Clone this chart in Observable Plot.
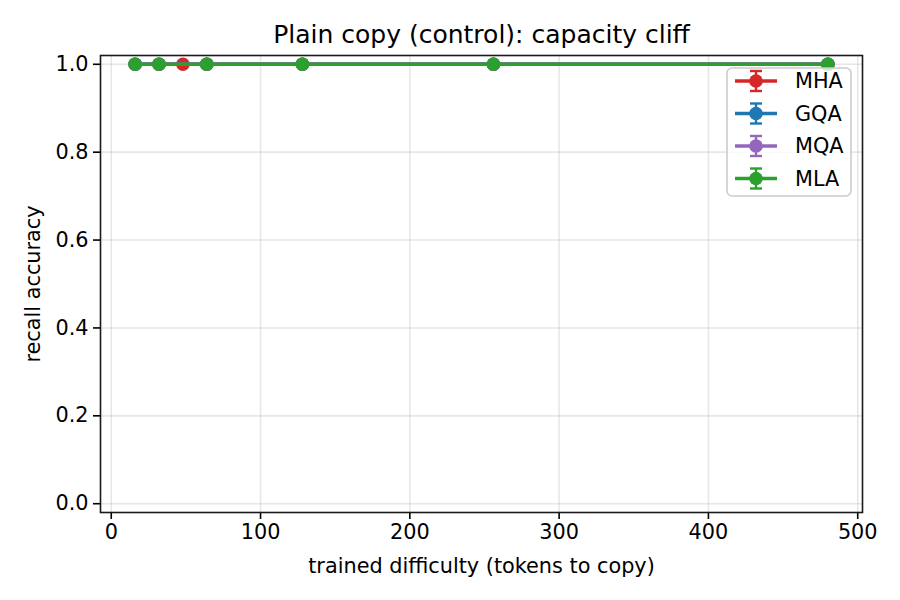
<!DOCTYPE html>
<html>
<head>
<meta charset="utf-8">
<script src="https://cdn.jsdelivr.net/npm/d3@7"></script>
<script src="https://cdn.jsdelivr.net/npm/@observablehq/plot@0.6"></script>
<style>
  html, body { margin: 0; padding: 0; background: white; }
  #chart { width: 900px; height: 600px; }
</style>
</head>
<body>
<div id="chart"></div>
<script>
const title = "Plain copy (control): capacity cliff";
const xLabel = "trained difficulty (tokens to copy)";
const yLabel = "recall accuracy";
const seriesNames = ["MHA", "GQA", "MQA", "MLA"];
const seriesColors = ["#d62728", "#1f77b4", "#9467bd", "#2ca02c"];
const mhaX = [16, 32, 48, 64, 128, 256, 480];
const mhaY = [1.0, 1.0, 1.0, 1.0, 1.0, 1.0, 1.0];
const gqaX = [16, 32, 64, 128, 256, 480];
const gqaY = [1.0, 1.0, 1.0, 1.0, 1.0, 1.0];
const mqaX = [16, 32, 64, 128, 256, 480];
const mqaY = [1.0, 1.0, 1.0, 1.0, 1.0, 1.0];
const mlaX = [16, 32, 64, 128, 256, 480];
const mlaY = [1.0, 1.0, 1.0, 1.0, 1.0, 1.0];
const xTicks = [0, 100, 200, 300, 400, 500];
const yTicks = [0.0, 0.2, 0.4, 0.6, 0.8, 1.0];

const seriesX = [mhaX, gqaX, mqaX, mlaX];
const seriesY = [mhaY, gqaY, mqaY, mlaY];
const rows = [];
seriesNames.forEach((name, i) => {
  seriesX[i].forEach((x, j) => rows.push({series: name, x, y: seriesY[i][j], order: i}));
});

const fontPx = 20.8;
const marks = [
  Plot.gridX(xTicks, {stroke: "#b0b0b0", strokeOpacity: 0.3, strokeWidth: 1.6}),
  Plot.gridY(yTicks, {stroke: "#b0b0b0", strokeOpacity: 0.3, strokeWidth: 1.6}),
  Plot.axisX(xTicks, {tickSize: 7, tickPadding: 5, tickFormat: d3.format("d"), label: null, fontSize: fontPx, strokeWidth: 1.6}),
  Plot.axisY(yTicks, {tickSize: 7, tickPadding: 5, tickFormat: d3.format(".1f"), label: null, fontSize: fontPx, strokeWidth: 1.6}),
];
seriesNames.forEach((name, i) => {
  const d = rows.filter(r => r.series === name);
  marks.push(Plot.line(d, {x: "x", y: "y", stroke: seriesColors[i], strokeWidth: 3.4}));
  marks.push(Plot.dot(d, {x: "x", y: "y", fill: seriesColors[i], r: 6.8, stroke: null}));
});
marks.push(Plot.frame({stroke: "#1a1a1a", strokeWidth: 1.6}));
marks.push(Plot.text([title], {frameAnchor: "top", dy: -30, fontSize: 25, fill: "black", textAnchor: "middle"}));
marks.push(Plot.text([xLabel], {frameAnchor: "bottom", dy: 60, fontSize: fontPx, fill: "black", textAnchor: "middle"}));
marks.push(Plot.text([yLabel], {frameAnchor: "left", dx: -67, rotate: -90, fontSize: fontPx, fill: "black", textAnchor: "middle"}));

const plot = Plot.plot({
  width: 900,
  height: 600,
  marginLeft: 100,
  marginRight: 38,
  marginTop: 55,
  marginBottom: 88,
  style: {fontFamily: "DejaVu Sans", fontSize: fontPx + "px", color: "black", background: "white", overflow: "visible"},
  x: {domain: [-7.2, 503.2], axis: null},
  y: {domain: [-0.02, 1.02], axis: null},
  marks
});
document.getElementById("chart").appendChild(plot);

// legend (matplotlib style, upper right)
const svg = d3.select(plot);
const lg = svg.append("g").attr("transform", "translate(727,68)");
lg.append("rect").attr("width", 124).attr("height", 128).attr("rx", 5)
  .attr("fill", "white").attr("fill-opacity", 0.8).attr("stroke", "#cccccc").attr("stroke-width", 1.6);
seriesNames.forEach((name, i) => {
  const cy = 13 + i * 32.5;
  const g = lg.append("g").attr("transform", `translate(0,${cy})`);
  g.append("line").attr("x1", 8).attr("x2", 50).attr("y1", 0).attr("y2", 0).attr("stroke", seriesColors[i]).attr("stroke-width", 3.4);
  g.append("line").attr("x1", 29).attr("x2", 29).attr("y1", -10).attr("y2", 10).attr("stroke", seriesColors[i]).attr("stroke-width", 2.4);
  g.append("line").attr("x1", 23).attr("x2", 35).attr("y1", -10).attr("y2", -10).attr("stroke", seriesColors[i]).attr("stroke-width", 2.4);
  g.append("line").attr("x1", 23).attr("x2", 35).attr("y1", 10).attr("y2", 10).attr("stroke", seriesColors[i]).attr("stroke-width", 2.4);
  g.append("circle").attr("cx", 29).attr("cy", 0).attr("r", 6.8).attr("fill", seriesColors[i]);
  g.append("text").attr("x", 68).attr("y", 0).attr("dy", "0.35em").attr("text-anchor", "start")
    .attr("font-size", fontPx).attr("fill", "black").text(name);
});
</script>
</body>
</html>
